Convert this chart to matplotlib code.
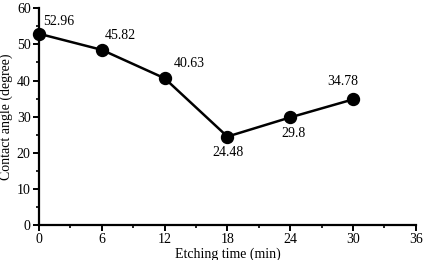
import matplotlib
matplotlib.use("Agg")
import matplotlib.pyplot as plt
from matplotlib.ticker import MultipleLocator

etch_time = [0, 6, 12, 18, 24, 30]
contact_angle = [52.96, 48.5, 40.63, 24.48, 29.8, 34.78]
point_labels = ["52.96", "45.82", "40.63", "24.48", "29.8", "34.78"]
label_offsets = [(20, 12), (19, 14), (25, 15), (1, -16), (3, -16), (-10, 18)]

plt.rcParams['font.family'] = ['Liberation Serif', 'DejaVu Serif']
fig = plt.figure(figsize=(4.23, 2.60), dpi=100)
ax = fig.add_axes([0.0922, 0.1346, 0.983 - 0.0922, 0.968 - 0.1346])

ax.plot(etch_time, contact_angle, color='black', lw=1.8, marker='o',
        markersize=8.6, markerfacecolor='black', markeredgecolor='black', clip_on=False, zorder=3)

for x, y, t, (dx, dy) in zip(etch_time, contact_angle, point_labels, label_offsets):
    ax.annotate(t, (x, y), xytext=(dx, dy), textcoords='offset pixels',
                ha='center', va='center', fontsize=10)

ax.set_xlim(0, 36)
ax.set_ylim(0, 60)
ax.xaxis.set_major_locator(MultipleLocator(6))
ax.xaxis.set_minor_locator(MultipleLocator(3))
ax.yaxis.set_major_locator(MultipleLocator(10))
ax.yaxis.set_minor_locator(MultipleLocator(5))
for s in ['top', 'right']:
    ax.spines[s].set_visible(False)
for s in ['left', 'bottom']:
    ax.spines[s].set_linewidth(1.6)
ax.tick_params(which='major', direction='out', length=4, width=1.4, labelsize=10, pad=2)
ax.tick_params(which='minor', direction='out', length=2.5, width=1.2)

ax.set_xlabel('Etching time (min)', fontsize=10, labelpad=1)
ax.set_ylabel('Contact angle (degree)', fontsize=10, labelpad=3)

fig.savefig('out.png', dpi=100)
